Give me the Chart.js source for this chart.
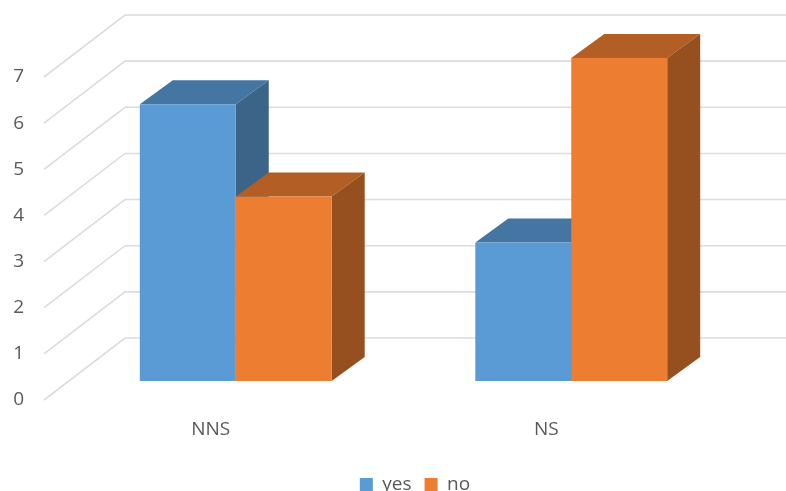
<!DOCTYPE html>
<html>
<head>
<meta charset="utf-8">
<title>NNS / NS</title>
<script src="https://cdn.jsdelivr.net/npm/chart.js@4/dist/chart.umd.min.js"></script>
<style>
    html, body { margin: 0; padding: 0; background: #fff; overflow: hidden; }
    canvas { display: block; }
</style>
</head>
<body>
<canvas id="groupChart" width="786" height="491"></canvas>
<script>
var categories = ["NNS", "NS"];
var yesValues = [6, 3];
var noValues = [4, 7];
var yTickValues = [0, 1, 2, 3, 4, 5, 6, 7];

var textColor = "#595959";
var labelFont = { family: "'Open Sans', 'Noto Sans', sans-serif", size: 19 };

// how far the bars sit in from the axis plane, and the depth of each box
var barShift = { x: 25, y: -19 };
var barDepth = { x: 33, y: -24 };
// depth of the wall the gridlines run along
var wallDepth = { x: 82, y: -62 };
// the legend sits low and right of its default slot
var legendShift = { x: 58, y: 13 };

function drawFace(ctx, points, color) {
    ctx.beginPath();
    ctx.moveTo(points[0][0], points[0][1]);
    for (var i = 1; i < points.length; i++) {
        ctx.lineTo(points[i][0], points[i][1]);
    }
    ctx.closePath();
    ctx.fillStyle = color;
    ctx.fill();
}

var box3d = {
    id: "box3d",
    afterLayout: function (chart) {
        var legend = chart.legend;
        legend.left += legendShift.x;
        legend.right += legendShift.x;
        legend.top += legendShift.y;
        legend.bottom += legendShift.y;
    },
    beforeDatasetsDraw: function (chart) {
        var ctx = chart.ctx;
        var area = chart.chartArea;
        var yScale = chart.scales.y;

        // gridlines: diagonal up the side wall, then flat along the back
        ctx.save();
        ctx.strokeStyle = "#dcdcdc";
        ctx.lineWidth = 1.6;
        yTickValues.forEach(function (v) {
            var py = yScale.getPixelForValue(v);
            ctx.beginPath();
            ctx.moveTo(area.left + 1, py);
            ctx.lineTo(area.left + wallDepth.x, py + wallDepth.y);
            ctx.lineTo(chart.width, py + wallDepth.y);
            ctx.stroke();
        });
        ctx.restore();

        // everything from here on is shifted onto the bar plane
        ctx.save();
        ctx.translate(barShift.x, barShift.y);

        // top and side faces, yes first so the no boxes cover them
        chart.data.datasets.forEach(function (ds, i) {
            chart.getDatasetMeta(i).data.forEach(function (bar) {
                var left = bar.x - bar.width / 2;
                var right = bar.x + bar.width / 2;
                var top = bar.y;
                var base = bar.base;
                drawFace(ctx, [
                    [left, top],
                    [left + barDepth.x, top + barDepth.y],
                    [right + barDepth.x, top + barDepth.y],
                    [right, top]
                ], ds.topColor);
                drawFace(ctx, [
                    [right, top],
                    [right + barDepth.x, top + barDepth.y],
                    [right + barDepth.x, base + barDepth.y],
                    [right, base]
                ], ds.sideColor);
            });
        });
    },
    afterDatasetsDraw: function (chart) {
        chart.ctx.restore();
    }
};

var ctx = document.getElementById("groupChart").getContext("2d");
var myChart = new Chart(ctx, {
    type: "bar",
    plugins: [box3d],
    data: {
        labels: categories,
        datasets: [
            {
                label: "yes",
                data: yesValues,
                backgroundColor: "#5b9bd5",
                topColor: "#4576a3",
                sideColor: "#3b6488",
                clip: false
            },
            {
                label: "no",
                data: noValues,
                backgroundColor: "#ed7d31",
                topColor: "#b35e24",
                sideColor: "#964f1e",
                clip: false
            }
        ]
    },
    options: {
        responsive: false,
        animation: false,
        layout: {
            padding: { top: 77, left: 0, right: 72, bottom: 0 }
        },
        datasets: {
            bar: {
                categoryPercentage: 0.572,
                barPercentage: 1
            }
        },
        scales: {
            x: {
                grid: { display: false, drawTicks: false },
                border: { display: false },
                ticks: {
                    color: textColor,
                    font: labelFont,
                    padding: 18,
                    maxRotation: 0
                },
                afterFit: function (scale) {
                    scale.height = 49;
                }
            },
            y: {
                min: 0,
                max: 7,
                grid: { display: false, drawTicks: false },
                border: { display: false },
                afterBuildTicks: function (scale) {
                    scale.ticks = yTickValues.map(function (v) {
                        return { value: v };
                    });
                },
                ticks: {
                    color: textColor,
                    font: labelFont,
                    padding: 19
                },
                afterFit: function (scale) {
                    scale.width = 43;
                }
            }
        },
        plugins: {
            tooltip: { enabled: false },
            legend: {
                position: "bottom",
                labels: {
                    color: textColor,
                    font: labelFont,
                    boxWidth: 13,
                    boxHeight: 13,
                    padding: 13
                }
            }
        }
    }
});
</script>
</body>
</html>
